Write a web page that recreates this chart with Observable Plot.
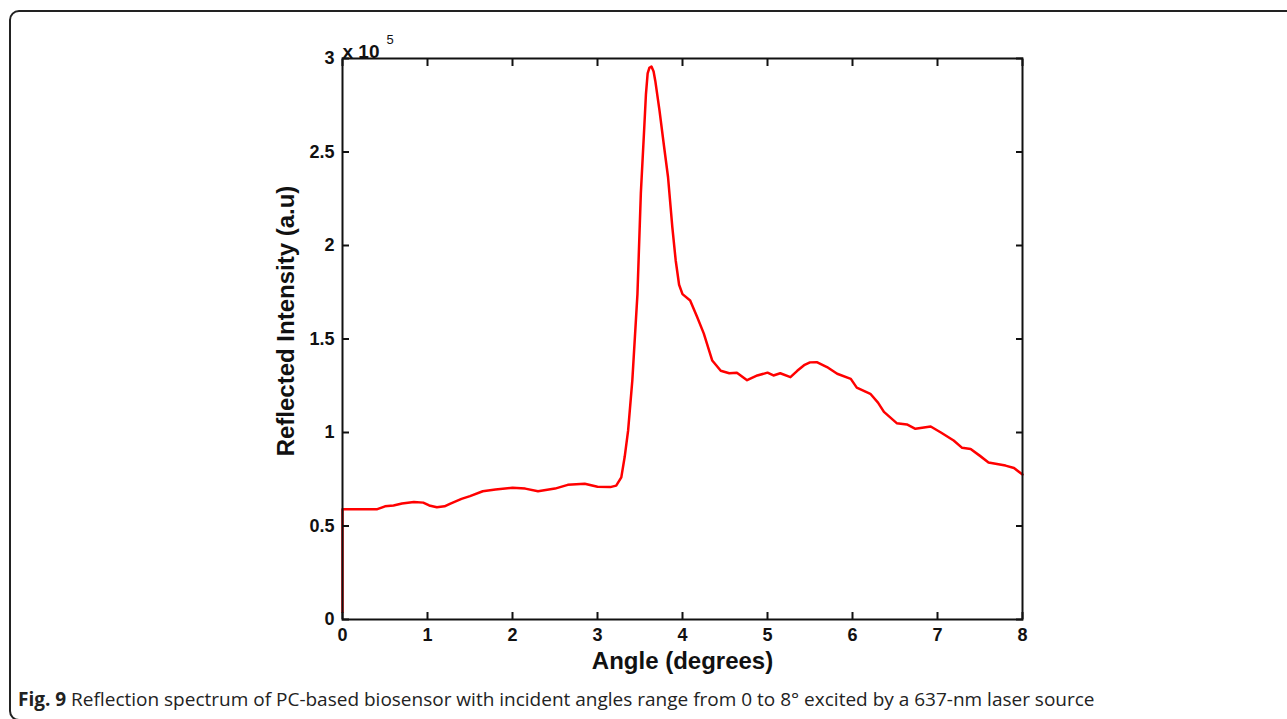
<!DOCTYPE html>
<html>
<head>
<meta charset="utf-8">
<script src="https://cdn.jsdelivr.net/npm/d3@7"></script>
<script src="https://cdn.jsdelivr.net/npm/@observablehq/plot@0.6"></script>
<style>
  html, body { margin: 0; padding: 0; background: #fff; }
  body { width: 1287px; height: 719px; position: relative; overflow: hidden; }
  #box { position: absolute; left: 9px; top: 10px; width: 1290px; height: 711px;
         border: 2px solid #222; border-radius: 10px; box-sizing: border-box; }
  #chart { position: absolute; left: 0; top: 0; }
  #caption { position: absolute; left: 18px; top: 690px; font-family: "Open Sans", sans-serif;
             font-size: 19px; line-height: 19px; color: #222; white-space: nowrap; }
  #caption b { font-weight: 700; }
</style>
</head>
<body>
<div id="box"></div>
<div id="chart"></div>
<div id="caption"><b>Fig. 9</b> Reflection spectrum of PC-based biosensor with incident angles range from 0 to 8° excited by a 637-nm laser source</div>
<script>
const angle = [0, 0, 0.2, 0.41, 0.5, 0.6, 0.7, 0.84, 0.95, 1.02, 1.11, 1.2, 1.27, 1.4, 1.5, 1.65, 1.8, 2.0, 2.15, 2.3, 2.5, 2.65, 2.85, 3.0, 3.15, 3.22, 3.28, 3.32, 3.36, 3.41, 3.47, 3.51, 3.55, 3.57, 3.59, 3.61, 3.635, 3.66, 3.68, 3.73, 3.78, 3.83, 3.88, 3.92, 3.96, 4.0, 4.09, 4.17, 4.25, 4.35, 4.45, 4.55, 4.64, 4.76, 4.88, 5.0, 5.07, 5.15, 5.27, 5.35, 5.43, 5.5, 5.58, 5.7, 5.82, 5.98, 6.05, 6.21, 6.3, 6.37, 6.52, 6.64, 6.74, 6.92, 7.04, 7.19, 7.29, 7.39, 7.5, 7.6, 7.8, 7.9, 8.0];
const intensity = [0.04, 0.59, 0.59, 0.59, 0.605, 0.61, 0.62, 0.628, 0.625, 0.61, 0.60, 0.605, 0.62, 0.645, 0.66, 0.686, 0.695, 0.704, 0.70, 0.686, 0.70, 0.72, 0.726, 0.71, 0.708, 0.716, 0.76, 0.87, 1.01, 1.28, 1.74, 2.28, 2.63, 2.81, 2.92, 2.95, 2.957, 2.93, 2.88, 2.72, 2.54, 2.365, 2.10, 1.92, 1.79, 1.74, 1.706, 1.62, 1.53, 1.385, 1.33, 1.317, 1.32, 1.28, 1.305, 1.32, 1.305, 1.317, 1.296, 1.33, 1.36, 1.375, 1.376, 1.35, 1.314, 1.287, 1.24, 1.207, 1.16, 1.11, 1.05, 1.043, 1.02, 1.032, 1.0, 0.957, 0.918, 0.912, 0.875, 0.84, 0.823, 0.81, 0.775];
const xTicks = [0, 1, 2, 3, 4, 5, 6, 7, 8];
const yTicks = [0, 0.5, 1, 1.5, 2, 2.5, 3];
const yTickLabels = ["0", "0.5", "1", "1.5", "2", "2.5", "3"];

const data = angle.map((a, i) => ({angle: a, value: intensity[i]}));

const font = "'Liberation Sans', Arial, sans-serif";
const chart = Plot.plot({
  width: 1287,
  height: 685,
  marginLeft: 342,
  marginRight: 265,
  marginTop: 58,
  marginBottom: 66,
  style: {fontFamily: font, fontSize: "18px", fontWeight: "bold", color: "#111", background: "transparent"},
  x: {domain: [0, 8]},
  y: {domain: [0, 3]},
  marks: [
    Plot.line(data, {x: "angle", y: "value", stroke: "#ff0000", strokeWidth: 2.5}),
    Plot.axisX({ticks: xTicks, anchor: "bottom", tickSize: -7, tickPadding: 16, strokeWidth: 2, stroke: "#111", fontSize: 18, tickFormat: d => String(d), label: null}),
    Plot.axisX({ticks: xTicks, anchor: "top", tickSize: -7, strokeWidth: 2, stroke: "#111", tickFormat: () => "", label: null}),
    Plot.axisY({ticks: yTicks, anchor: "left", tickSize: -7, tickPadding: 15, strokeWidth: 2, stroke: "#111", fontSize: 18,
      tickFormat: d => yTickLabels[yTicks.indexOf(d)], label: null}),
    Plot.axisY({ticks: yTicks, anchor: "right", tickSize: -7, strokeWidth: 2, stroke: "#111", tickFormat: () => "", label: null}),
    Plot.frame({stroke: "#111", strokeWidth: 2}),
    Plot.text(["Angle (degrees)"], {frameAnchor: "bottom", textAnchor: "middle", dy: 49, fontSize: 24, fontWeight: "bold"}),
    Plot.text(["x 10"], {frameAnchor: "top-left", textAnchor: "start", dx: 0, dy: -14, fontSize: 19, fontWeight: "bold"}),
    Plot.text(["5"], {frameAnchor: "top-left", textAnchor: "start", dx: 44, dy: -24, fontSize: 13, fontWeight: "normal"}),
    Plot.text(["Reflected Intensity (a.u)"], {frameAnchor: "left", textAnchor: "middle", rotate: -90, dx: -56, dy: -18, fontSize: 24, fontWeight: "bold"})
  ]
});
document.getElementById("chart").appendChild(chart);
</script>
</body>
</html>
